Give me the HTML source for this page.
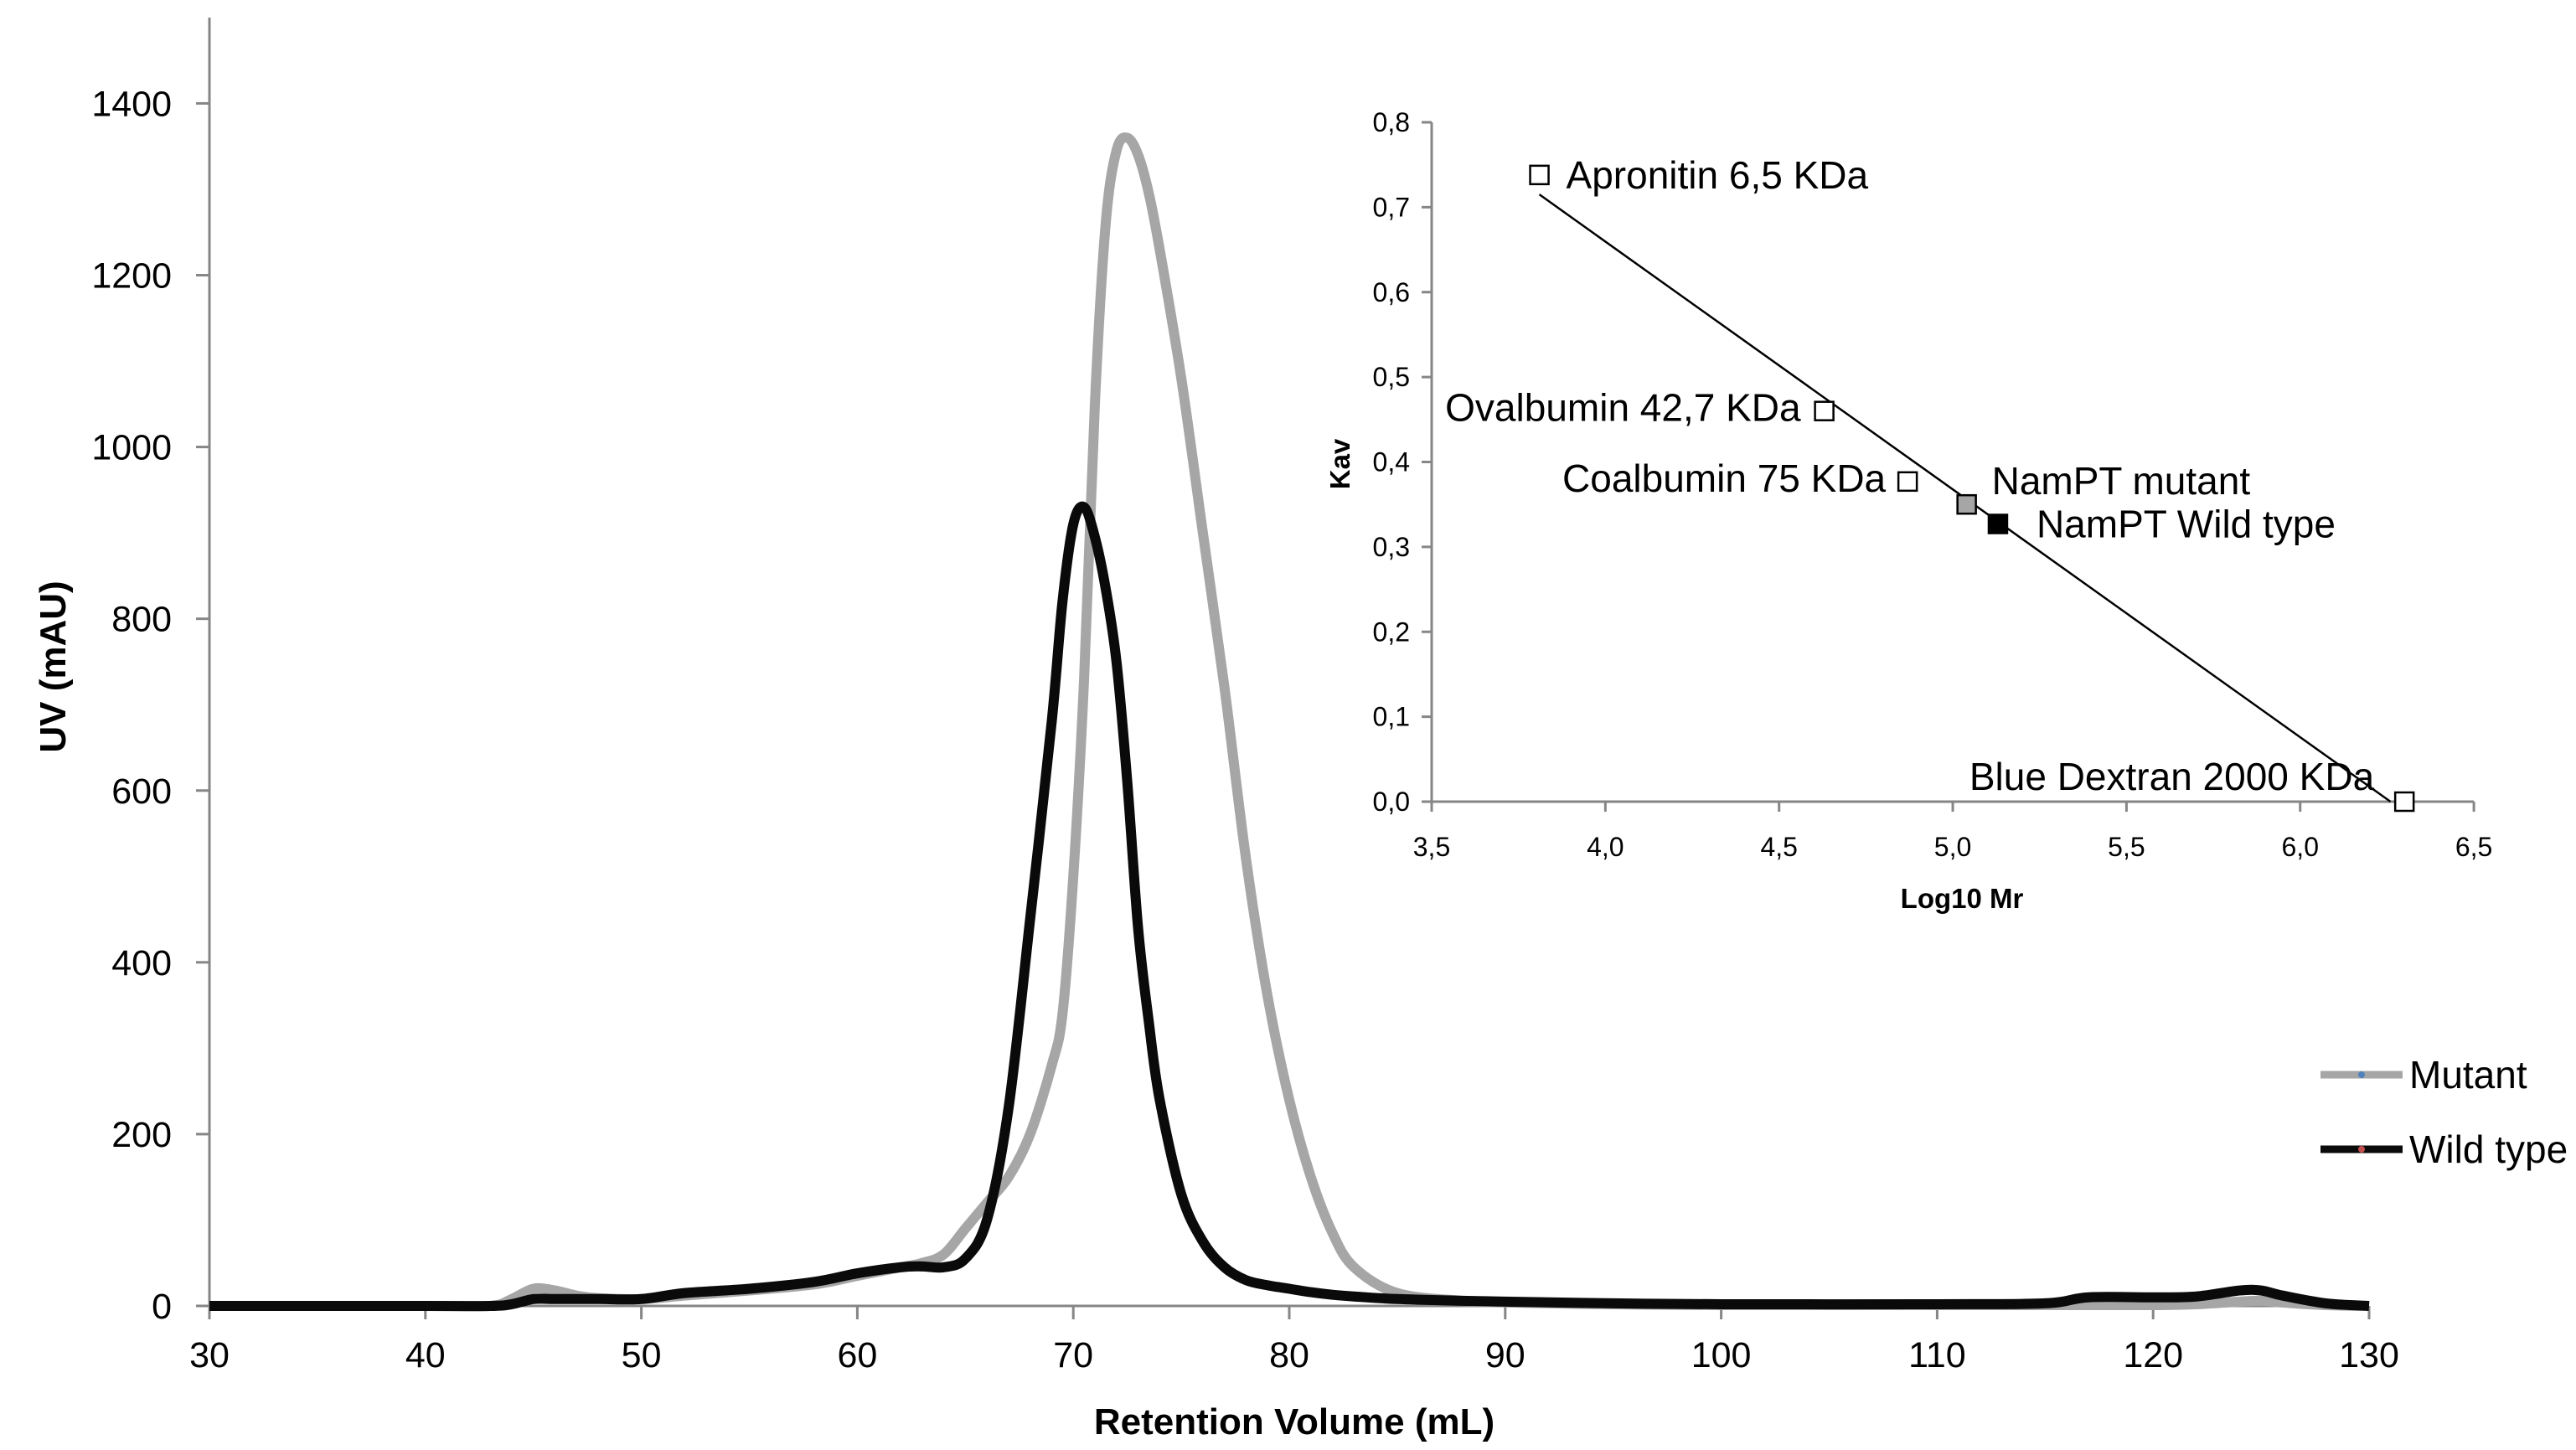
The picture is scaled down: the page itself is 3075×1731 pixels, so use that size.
<!DOCTYPE html>
<html><head><meta charset="utf-8"><style>
html,body{margin:0;padding:0;background:#fff;}
svg{display:block;font-family:"Liberation Sans","DejaVu Sans",sans-serif;}
</style></head><body>
<svg id="chart" width="3075" height="1731" viewBox="0 0 3075 1731" xmlns="http://www.w3.org/2000/svg">
<g id="main"></g>
<g id="inset"></g>
</svg>
<script>
// main chart data
const volumes = [30,40,43,44,45,46,47,48,50,52,55,58,60,62,63,64,65,66,67,68,69,69.5,70,70.5,71,71.5,72,72.5,73,73.5,74,75,76,77,78,79,80,81,82,83,85,88,90,95,100,110,115,117,120,122,124,125,126,128,130];
const mutant  = [0,0,0,8,20,18,12,9,8,12,18,25,35,45,50,60,90,120,150,200,280,340,500,730,1050,1260,1345,1360,1340,1295,1230,1080,900,720,520,360,240,150,85,45,15,6,4,2,1,1,1,1,1,2,5,6,4,1,0];
const wildType= [0,0,0,2,8,8,8,8,8,15,20,28,38,45,46,45,55,100,230,450,680,820,910,930,895,835,750,610,440,330,240,130,75,45,30,24,20,16,13,11,8,6,5,3,2,2,3,10,10,11,18,18,12,3,0];
const yTicks = [0,200,400,600,800,1000,1200,1400];
const xTicks = [30,40,50,60,70,80,90,100,110,120,130];
// inset data
const stdNames = ["Apronitin 6,5 KDa","Ovalbumin 42,7 KDa","Coalbumin 75 KDa","Blue Dextran 2000 KDa"];
const stdLogMr = [3.81,4.63,4.87,6.30];
const stdKav = [0.738,0.46,0.377,0.0];
const sampleNames = ["NamPT mutant","NamPT Wild type"];
const sampleLogMr = [5.04,5.13];
const sampleKav = [0.35,0.327];
const fitLine = [[3.81,0.715],[6.26,0.0]];
const kavTicks = [0,0.1,0.2,0.3,0.4,0.5,0.6,0.7,0.8];
const logTicks = [3.5,4.0,4.5,5.0,5.5,6.0,6.5];

const NS="http://www.w3.org/2000/svg";
function mk(parent,tag,attrs,text){const e=document.createElementNS(NS,tag);for(const k in attrs)e.setAttribute(k,attrs[k]);if(text!==undefined)e.textContent=text;parent.appendChild(e);return e;}
const main=document.getElementById('main');
const X=v=>250+(v-30)*25.78;
const Y=v=>1559-v*1.0254;
// axes
let e=mk(main,'line',{x1:250,y1:21,x2:250,y2:1559,stroke:'#868686','stroke-width':3});

e=mk(main,'line',{x1:250,y1:1559,x2:X(130),y2:1559,stroke:'#868686','stroke-width':3});

yTicks.forEach(t=>{
  mk(main,'line',{x1:234,y1:Y(t),x2:250,y2:Y(t),stroke:'#868686','stroke-width':3});
  const tx=mk(main,'text',{x:205,y:Y(t)+15,'text-anchor':'end','font-size':43,fill:'#000'},String(t));
  
  
});
xTicks.forEach(t=>{
  mk(main,'line',{x1:X(t),y1:1559,x2:X(t),y2:1575,stroke:'#868686','stroke-width':3});
  const tx=mk(main,'text',{x:X(t),y:1632,'text-anchor':'middle','font-size':43,fill:'#000'},String(t));
  
  
});
e=mk(main,'text',{x:0,y:0,transform:'translate(78,796) rotate(-90)','text-anchor':'middle','font-size':44,'font-weight':'bold'},'UV (mAU)');

e=mk(main,'text',{x:1545,y:1712,'text-anchor':'middle','font-size':44,'font-weight':'bold'},'Retention Volume (mL)');

function smoothPath(xs,ys){
  const p=xs.map((x,i)=>[X(x),Y(ys[i])]);
  let d='M'+p[0][0]+','+p[0][1];
  for(let i=0;i<p.length-1;i++){
    const p0=p[Math.max(0,i-1)],p1=p[i],p2=p[i+1],p3=p[Math.min(p.length-1,i+2)];
    const c1=[p1[0]+(p2[0]-p0[0])/6,p1[1]+(p2[1]-p0[1])/6];
    const c2=[p2[0]-(p3[0]-p1[0])/6,p2[1]-(p3[1]-p1[1])/6];
    d+=' C'+c1[0]+','+c1[1]+' '+c2[0]+','+c2[1]+' '+p2[0]+','+p2[1];
  }
  return d;
}
e=mk(main,'path',{d:smoothPath(volumes,mutant),fill:'none',stroke:'#a6a6a6','stroke-width':12,'stroke-linejoin':'round'});

e=mk(main,'path',{d:smoothPath(volumes,wildType),fill:'none',stroke:'#0a0a0a','stroke-width':12,'stroke-linejoin':'round'});

// legend
e=mk(main,'line',{x1:2770,y1:1283,x2:2868,y2:1283,stroke:'#a6a6a6','stroke-width':9});

mk(main,'circle',{cx:2819,cy:1283,r:4,fill:'#4f81bd'});
e=mk(main,'text',{x:2876,y:1299,'font-size':46},'Mutant');

e=mk(main,'line',{x1:2770,y1:1372,x2:2868,y2:1372,stroke:'#0a0a0a','stroke-width':9});

mk(main,'circle',{cx:2819,cy:1372,r:4,fill:'#c0504d'});
e=mk(main,'text',{x:2876,y:1388,'font-size':46},'Wild type');


// inset
const ins=document.getElementById('inset');
const IX=v=>1709+(v-3.5)*414.7;
const IY=v=>957-v*1013.75;
e=mk(ins,'line',{x1:1709,y1:IY(0.8),x2:1709,y2:957,stroke:'#868686','stroke-width':3});

e=mk(ins,'line',{x1:1709,y1:957,x2:IX(6.5),y2:957,stroke:'#868686','stroke-width':3});

kavTicks.forEach(t=>{
  mk(ins,'line',{x1:1697,y1:IY(t),x2:1709,y2:IY(t),stroke:'#868686','stroke-width':3});
  const tx=mk(ins,'text',{x:1683,y:IY(t)+11,'text-anchor':'end','font-size':32},t.toFixed(1).replace('.',','));
  
  
});
logTicks.forEach(t=>{
  mk(ins,'line',{x1:IX(t),y1:957,x2:IX(t),y2:969,stroke:'#868686','stroke-width':3});
  const tx=mk(ins,'text',{x:IX(t),y:1022,'text-anchor':'middle','font-size':32},t.toFixed(1).replace('.',','));
  
  
});
e=mk(ins,'text',{x:0,y:0,transform:'translate(1611,554) rotate(-90)','text-anchor':'middle','font-size':33,'font-weight':'bold'},'Kav');

e=mk(ins,'text',{x:2342,y:1084,'text-anchor':'middle','font-size':33,'font-weight':'bold'},'Log10 Mr');

e=mk(ins,'line',{x1:IX(fitLine[0][0]),y1:IY(fitLine[0][1]),x2:IX(fitLine[1][0]),y2:IY(fitLine[1][1]),stroke:'#000','stroke-width':2.5});

const labelPos=[{dx:32,dy:16,a:'start'},{dx:-28,dy:12,a:'end'},{dx:-26,dy:12,a:'end'},{dx:-36,dy:-14,a:'end'}];
stdLogMr.forEach((v,i)=>{
  const r=mk(ins,'rect',{x:IX(v)-11,y:IY(stdKav[i])-11,width:22,height:22,fill:'#fff',stroke:'#000','stroke-width':2.5});
  
  
  const lp=labelPos[i];
  const t=mk(ins,'text',{x:IX(v)+lp.dx,y:IY(stdKav[i])+lp.dy,'text-anchor':lp.a,'font-size':46},stdNames[i]);
  
  
});
const sFill=['#a6a6a6','#000'];
const sLab=[{dx:30,dy:-12},{dx:46,dy:16}];
sampleLogMr.forEach((v,i)=>{
  const r=mk(ins,'rect',{x:IX(v)-11,y:IY(sampleKav[i])-11,width:22,height:22,fill:sFill[i],stroke:'#000','stroke-width':2.5});
  
  
  const t=mk(ins,'text',{x:IX(v)+sLab[i].dx,y:IY(sampleKav[i])+sLab[i].dy,'font-size':46},sampleNames[i]);
  
  
});
</script>
</body></html>
